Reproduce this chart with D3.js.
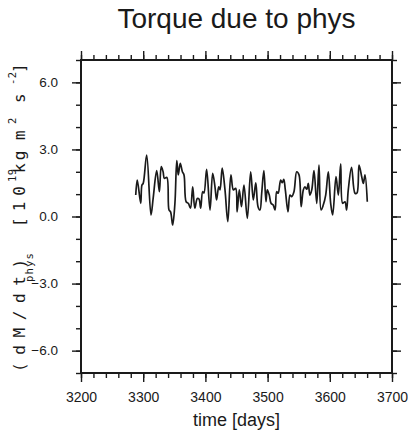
<!DOCTYPE html>
<html>
<head>
<meta charset="utf-8">
<script src="https://cdn.jsdelivr.net/npm/d3@7"></script>
<style>
  body { margin: 0; background: #fff; }
  text { font-family: "Liberation Sans", Arial, sans-serif; fill: #1a1a1a; }
</style>
</head>
<body>
<svg></svg>
<script>
// values (time in days, torque in 1e19 kg m2 s-2)
const days = [3288, 3290.5, 3296, 3298, 3300, 3305.6, 3312.5, 3316, 3321.7, 3326,
  3329, 3332, 3334, 3338, 3341.5, 3344, 3347.4, 3351, 3354, 3356.4,
  3359.6, 3363, 3365.6, 3369, 3372.5, 3376, 3379.6, 3383, 3387, 3389.7,
  3392.4, 3395.6, 3397.7, 3402, 3407.4, 3411.7, 3415.4, 3418, 3421.4, 3423.5,
  3427, 3431.5, 3436, 3441, 3445, 3448.7, 3451, 3454.5, 3458, 3462,
  3467.4, 3472.8, 3477, 3481, 3484.6, 3487.8, 3490.5, 3494, 3497.4, 3499.5,
  3502.7, 3505.5, 3509, 3512, 3514.6, 3517, 3521, 3523.6, 3526, 3528.5,
  3532.8, 3536, 3538.7, 3542.4, 3546.8, 3550.5, 3554, 3557.4, 3560, 3563,
  3565.4, 3568, 3571, 3574.6, 3579, 3582.6, 3586, 3589.5, 3593.4, 3597.6,
  3601.4, 3604.6, 3610, 3613.7, 3617.5, 3620.7, 3624.4, 3627, 3629.7, 3635,
  3640.5, 3643.7, 3647, 3651.3, 3654, 3656.6, 3660.3];
const torque = [0.96, 1.63, 0.59, 1.41, 1.48, 2.75, 0.07, 0.81, 2.05, 1.11,
  2.23, 2.0, 1.71, 1.75, 0.29, 0.21, -0.38, 0.59, 2.5, 1.86,
  2.38, 2.0, 1.86, 0.66, 0.59, 0.37, 1.33, 0.37, 0.81, 0.78,
  0.37, 1.11, 1.05, 2.11, 0.29, 1.93, 1.33, 0.74, 1.33, 1.19,
  2.16, 1.19, -0.23, 1.86, 1.19, 1.26, 0.21, 1.19, 0.44, 1.41,
  -0.08, 2.0, 0.74, 1.51, 0.44, 0.29, 1.04, 2.05, 0.66, 1.19,
  0.96, 0.59, 0.51, 0.29, 1.11, 1.04, 1.63, 1.51, 1.66, 1.19,
  0.21, 0.96, 0.89, 1.11, 2.0, 1.86, 0.44, 1.19, 1.33, 1.22,
  1.48, 0.96, 1.19, 2.05, 0.59, 2.3, 0.29, 0.51, 0.96, 2.0,
  0.59, 0.07, 1.78, 0.96, 2.35, 0.59, 0.66, 0.29, 1.19, 2.2,
  1.04, 1.05, 2.3, 1.78, 1.48, 1.86, 0.66];

const xMajor = [3200, 3300, 3400, 3500, 3600, 3700];
const xMinor = d3.range(3200, 3701, 20);
const yMajor = [-6, -3, 0, 3, 6];
const yMinor = d3.range(-7, 7.5, 1);

const svgWidth = 408;
const svgHeight = 431;
const margin = {top: 60, right: 16, bottom: 58, left: 81};
const width = svgWidth - margin.left - margin.right;
const height = svgHeight - margin.top - margin.bottom;

const svg = d3.select("svg")
    .attr("width", svgWidth)
    .attr("height", svgHeight);

const g = svg.append("g")
    .attr("transform", "translate(" + margin.left + "," + margin.top + ")");

const x = d3.scaleLinear().domain([3200, 3700]).range([0, width]);
const y = d3.scaleLinear().domain([-7, 7]).range([height, 0]);

// ticks on all four sides, pointing outward
function addAxis(axisFn, scale, vals, size, fmt, transform) {
    const a = g.append("g")
        .attr("transform", transform)
        .call(axisFn(scale).tickValues(vals).tickSize(size).tickSizeOuter(0).tickFormat(fmt));
    a.select(".domain").remove();
    a.selectAll(".tick line").attr("stroke", "#1a1a1a").attr("stroke-width", 1.4);
    return a;
}

addAxis(d3.axisBottom, x, xMinor, 5, "", "translate(0," + height + ")");
addAxis(d3.axisTop, x, xMinor, 5, "", "translate(0,0)");
addAxis(d3.axisLeft, y, yMinor, 5, "", "translate(0,0)");
addAxis(d3.axisRight, y, yMinor, 5, "", "translate(" + width + ",0)");

const xb = addAxis(d3.axisBottom, x, xMajor, 9, d3.format("d"), "translate(0," + height + ")");
xb.selectAll("text").attr("font-size", 14).attr("dy", 0).attr("y", 29)
    .style("font-family", "Liberation Sans, Arial, sans-serif").attr("fill", "#1a1a1a");
addAxis(d3.axisTop, x, xMajor, 9, "", "translate(0,0)");
const yl = addAxis(d3.axisLeft, y, yMajor, 9, d3.format(".1f"), "translate(0,0)");
yl.selectAll("text").attr("font-size", 13.5).attr("x", -23)
    .style("font-family", "Liberation Sans, Arial, sans-serif").attr("fill", "#1a1a1a");
addAxis(d3.axisRight, y, yMajor, 9, "", "translate(" + width + ",0)");

g.append("rect")
    .attr("width", width)
    .attr("height", height)
    .attr("fill", "none")
    .attr("stroke", "#1a1a1a")
    .attr("stroke-width", 2);

const line = d3.line()
    .curve(d3.curveCatmullRom.alpha(0.5))
    .x((d, i) => x(days[i]))
    .y(d => y(d));

g.append("path")
    .datum(torque)
    .attr("d", line)
    .attr("fill", "none")
    .attr("stroke", "#1a1a1a")
    .attr("stroke-width", 1.7)
    .attr("stroke-linejoin", "round");

// title
svg.append("text")
    .attr("x", margin.left + width / 2)
    .attr("y", 28)
    .attr("text-anchor", "middle")
    .attr("font-size", 28)
    .text("Torque due to phys");

// x axis title
svg.append("text")
    .attr("x", margin.left + width / 2)
    .attr("y", 426)
    .attr("text-anchor", "middle")
    .attr("font-size", 18)
    .text("time [days]");

// y axis title, rotated, with sub/superscripts
const yt = svg.append("text")
    .attr("transform", "translate(25,372) rotate(-90)")
    .style("font-family", "DejaVu Sans Mono, monospace")
    .attr("font-size", 16);

const parts = [
    {t: "(dM/dt)", x: 0, y: 0, fs: 16, ls: 7.6},
    {t: "phys", x: 90, y: 8, fs: 10.5, ls: 1.2},
    {t: "[10", x: 145, y: 0, fs: 16, ls: 6},
    {t: "19", x: 190, y: -9, fs: 10.5, ls: 0.5},
    {t: "kg", x: 199, y: 0, fs: 16, ls: 3},
    {t: "m", x: 232, y: 0, fs: 16, ls: 0},
    {t: "2", x: 248, y: -9, fs: 10.5, ls: 0},
    {t: "s", x: 269, y: 0, fs: 16, ls: 0},
    {t: "-2", x: 287, y: -9, fs: 10.5, ls: 0.5},
    {t: "]", x: 299, y: 0, fs: 16, ls: 0}
];
yt.selectAll("tspan")
    .data(parts)
    .enter().append("tspan")
    .attr("x", d => d.x)
    .attr("y", d => d.y)
    .attr("font-size", d => d.fs)
    .attr("letter-spacing", d => d.ls)
    .text(d => d.t);
</script>
</body>
</html>
